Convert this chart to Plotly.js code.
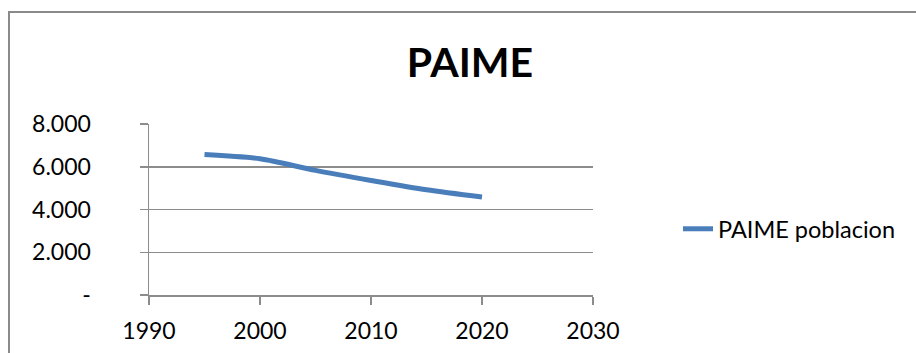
<!DOCTYPE html>
<html>
<head>
<meta charset="utf-8">
<script src="https://cdn.plot.ly/plotly-3.0.1.min.js"></script>
<style>
  html, body { margin: 0; padding: 0; background: #ffffff; overflow: hidden; }
  #chart { position: absolute; left: 0; top: 0; width: 916px; height: 353px; }
  #frame { position: absolute; left: 8px; top: 11px; width: 1000px; height: 500px;
           border-top: 2px solid #8a8a8a; border-left: 2px solid #8a8a8a; pointer-events: none; z-index: 5; }
</style>
</head>
<body>
<div id="chart"></div>
<div id="frame"></div>
<script>
const chartTitle = "PAIME";
const seriesName = "PAIME poblacion";
const years = [1995, 2000, 2005, 2010, 2015, 2020];
const poblacion = [6570, 6370, 5830, 5360, 4920, 4580];
const yTickVals = [0, 2000, 4000, 6000, 8000];
const yTickText = ["-", "2.000", "4.000", "6.000", "8.000"];
const xTickVals = [1990, 2000, 2010, 2020, 2030];

const axisColor = "#8c8c8c";
const font = "Lato, 'Open Sans', sans-serif";

const trace = {
  x: years,
  y: poblacion,
  type: "scatter",
  mode: "lines",
  name: seriesName,
  line: { color: "#4a7ebb", width: 5, shape: "spline", smoothing: 0.8 }
};

const layout = {
  width: 916,
  height: 353,
  margin: { l: 149, r: 323, t: 124, b: 58, pad: 0 },
  paper_bgcolor: "#ffffff",
  plot_bgcolor: "#ffffff",
  showlegend: true,
  title: {
    text: "<b>" + chartTitle + "</b>",
    font: { family: font, size: 41, color: "#000000" },
    xref: "container", yref: "container",
    x: 470 / 916, xanchor: "center",
    y: 1 - 63 / 353, yanchor: "middle"
  },
  xaxis: {
    range: [1990, 2030],
    tickvals: xTickVals,
    ticktext: xTickVals.map(String),
    showgrid: false,
    zeroline: false,
    showline: true,
    linecolor: axisColor,
    linewidth: 1.5,
    ticks: "outside",
    ticklen: 8,
    tickwidth: 1.5,
    tickcolor: axisColor,
    ticklabelstandoff: 7,
    tickfont: { family: font, size: 23, color: "#000000" },
    fixedrange: true
  },
  yaxis: {
    range: [0, 8000],
    tickvals: yTickVals,
    ticktext: yTickText,
    showgrid: true,
    gridcolor: axisColor,
    gridwidth: 1.5,
    zeroline: false,
    showline: true,
    linecolor: axisColor,
    linewidth: 1.5,
    ticks: "outside",
    ticklen: 8,
    tickwidth: 1.5,
    tickcolor: axisColor,
    ticklabelstandoff: 44,
    tickfont: { family: font, size: 23, color: "#000000" },
    fixedrange: true
  },
  legend: {
    xref: "paper", yref: "paper",
    x: (678 - 149) / 444, xanchor: "left",
    y: (295 - 229) / 171, yanchor: "middle",
    font: { family: font, size: 23.5, color: "#000000" },
    bgcolor: "rgba(0,0,0,0)",
    borderwidth: 0
  }
};

Plotly.newPlot("chart", [trace], layout, { staticPlot: true, displayModeBar: false });
</script>
</body>
</html>
